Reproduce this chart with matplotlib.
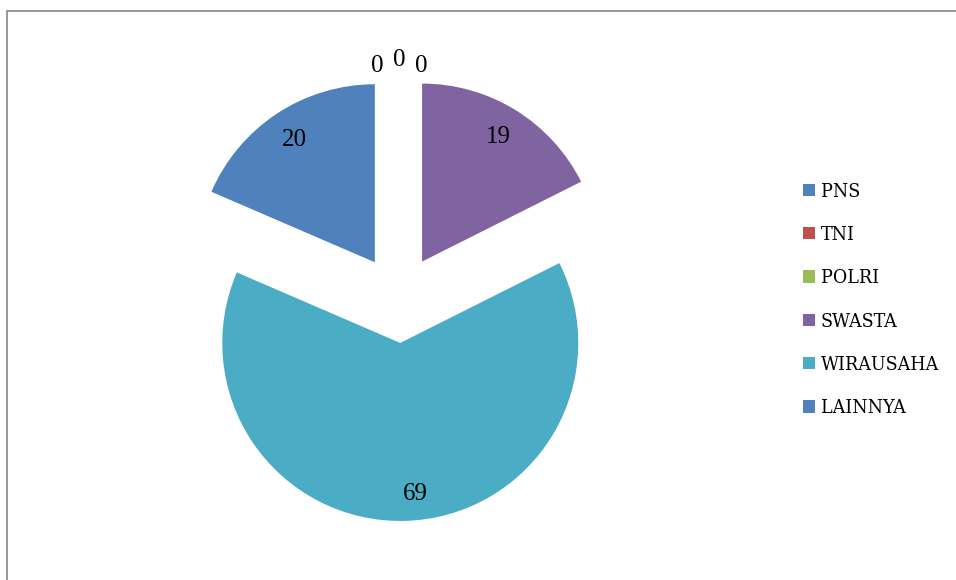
import matplotlib
matplotlib.use('Agg')
import matplotlib.pyplot as plt
from matplotlib.patches import Rectangle

categories = ['PNS', 'TNI', 'POLRI', 'SWASTA', 'WIRAUSAHA', 'LAINNYA']
values = [0, 0, 0, 19, 69, 20]
colors = ['#4F81BD', '#C0504D', '#9BBB59', '#8064A2', '#4BACC6', '#4F81BD']

W, H = 956, 580
cx, cy, r = 399, 299, 178  # pie centre and radius in pixels

fig = plt.figure(figsize=(W / 100, H / 100), dpi=100)
ax = fig.add_axes([0, 0, 1, 1])

explode = [0.247] * len(values)
wedges, texts = ax.pie(values, colors=colors, explode=explode, startangle=90,
                       counterclock=False, labels=[str(v) for v in values],
                       labeldistance=0.82, radius=1,
                       wedgeprops=dict(linewidth=0),
                       textprops=dict(fontsize=18, family='Liberation Serif',
                                      color='black', ha='center', va='center'))

# zero labels get pushed apart above the pie, like the spreadsheet does
zero_pos = [(-0.124, 1.31), (0.0, 1.34), (0.124, 1.31)]
zi = 0
for t, v in zip(texts, values):
    if v == 0:
        t.set_position(zero_pos[zi])
        zi += 1
# small nudge on the big slice label
x69, y69 = texts[4].get_position()
texts[4].set_position((x69 + 0.06, y69 - 0.03))

ax.set_aspect('equal')
ax.set_xlim(-cx / r, (W - cx) / r)
ax.set_ylim(-(H - cy) / r, cy / r)
ax.axis('off')

leg = fig.legend(wedges, categories, loc='center left',
                 bbox_to_anchor=(803 / W, 1 - 300 / H),
                 frameon=False,
                 prop=dict(family='DejaVu Serif', stretch='condensed', size=14),
                 handlelength=0.6, handleheight=0.6, handletextpad=0.3,
                 labelspacing=1.3, borderpad=0, borderaxespad=0)

# chart area border (top and left edges visible)
fig.patches.append(Rectangle((7 / W, -0.1), 1.2, 1 - 11 / H + 0.1,
                             transform=fig.transFigure, fill=False,
                             edgecolor='#868686', linewidth=1.2))

fig.savefig('out.png', dpi=100)
